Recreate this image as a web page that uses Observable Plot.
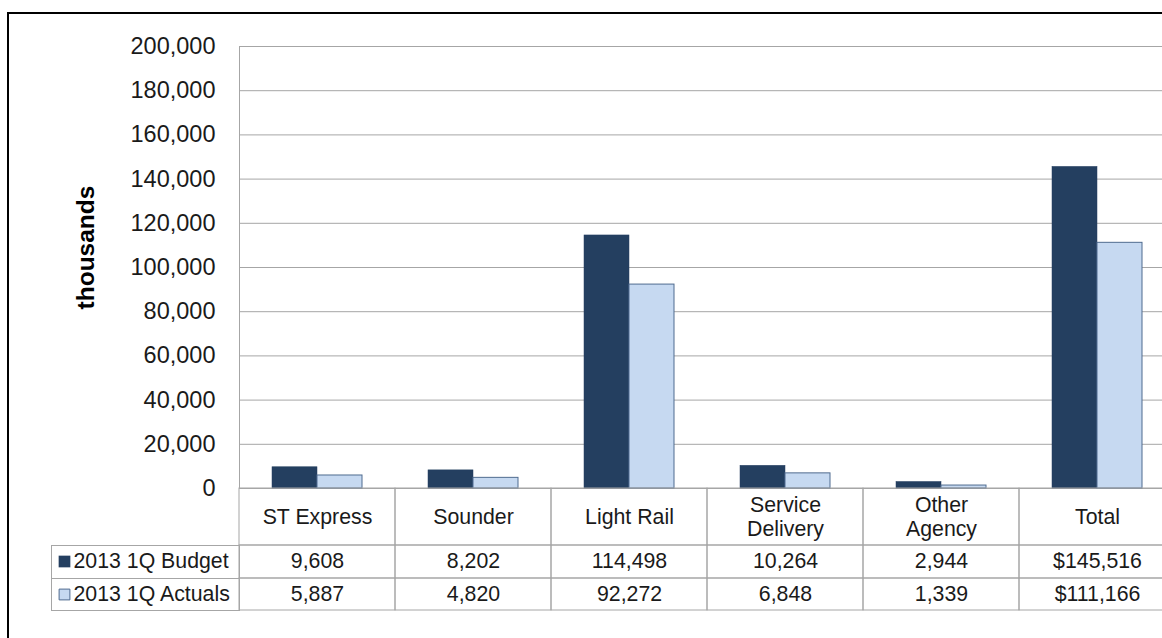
<!DOCTYPE html>
<html><head><meta charset="utf-8">
<script src="https://cdn.jsdelivr.net/npm/d3@7"></script>
<script src="https://cdn.jsdelivr.net/npm/@observablehq/plot@0.6"></script>
<style>
html,body{margin:0;padding:0;background:#fff;overflow:hidden;}
#wrap{position:relative;width:1162px;height:638px;overflow:hidden;background:#fff;}
#chart{position:absolute;left:0;top:0;width:1200px;}
#border{position:absolute;left:7px;top:12px;width:1300px;height:800px;border:2px solid #000;box-sizing:border-box;pointer-events:none;}
</style></head><body>
<div id="wrap"><div id="chart"></div><div id="border"></div></div>
<script>
// ---- data ----
const categories = ["ST Express", "Sounder", "Light Rail", "Service Delivery", "Other Agency", "Total"];
const categoryLabels = ["ST Express", "Sounder", "Light Rail", "Service\nDelivery", "Other\nAgency", "Total"];
const seriesNames = ["2013 1Q Budget", "2013 1Q Actuals"];
const budget = [9608, 8202, 114498, 10264, 2944, 145516];
const actuals = [5887, 4820, 92272, 6848, 1339, 111166];
const yTicks = [0, 20000, 40000, 60000, 80000, 100000, 120000, 140000, 160000, 180000, 200000];
const yLabel = "thousands";

// ---- style ----
const budgetColor = "#243f60";
const actualsColor = "#c6d9f1";
const actualsStroke = "#4f6b8f";
const lineColor = "#a6a6a6";
const textColor = "#1a1a1a";
const font = "'Liberation Sans', Arial, sans-serif";

const fmt = d3.format(",");
const rows = categories.map((c, i) => ({
  category: c,
  label: categoryLabels[i],
  budget: budget[i],
  actuals: actuals[i],
  budgetText: (c === "Total" ? "$" : "") + fmt(budget[i]),
  actualsText: (c === "Total" ? "$" : "") + fmt(actuals[i])
}));

const tableFont = 21.3;
const cellLine = {fill: "none", stroke: lineColor, strokeWidth: 1};

const chart = Plot.plot({
  width: 1175,
  height: 638,
  marginLeft: 239,
  marginRight: 0,
  marginTop: 46,
  marginBottom: 150,
  style: {fontFamily: font, fontSize: "23.5px", color: textColor, background: "transparent", overflow: "visible", maxWidth: "none"},
  x: {domain: categories, padding: 0, axis: null},
  y: {domain: [0, 200000], ticks: yTicks.length - 1, tickSize: 0, tickPadding: 24, tickFormat: fmt, label: null},
  marks: [
    Plot.ruleY(yTicks.slice(1), {stroke: lineColor, strokeWidth: 1}),
    Plot.frame({stroke: lineColor, strokeWidth: 1}),
    Plot.barY(rows, {x: "category", y: "budget", fill: budgetColor, stroke: budgetColor, strokeWidth: 0.5, insetLeft: 33, insetRight: 78}),
    Plot.barY(rows, {x: "category", y: "actuals", fill: actualsColor, stroke: actualsStroke, strokeWidth: 1, insetLeft: 78, insetRight: 33}),
    // data table cells
    Plot.barY(rows, {x: "category", y1: 0, y2: 0, insetTop: 0, insetBottom: -57, ...cellLine}),
    Plot.barY(rows, {x: "category", y1: 0, y2: 0, insetTop: 57, insetBottom: -90, ...cellLine}),
    Plot.barY(rows, {x: "category", y1: 0, y2: 0, insetTop: 90, insetBottom: -122, ...cellLine}),
    // legend column
    Plot.frame({stroke: lineColor, strokeWidth: 1, insetLeft: -188, insetRight: 936, insetTop: 499, insetBottom: -122}),
    Plot.ruleY([0], {dy: 90, stroke: lineColor, strokeWidth: 1, insetLeft: -188, insetRight: 936}),
    // table text
    Plot.text(rows, {x: "category", y: 0, text: "label", dy: 28, fontSize: tableFont, lineHeight: 1.12, fill: textColor}),
    Plot.text(rows, {x: "category", y: 0, text: "budgetText", dy: 73, fontSize: tableFont, fill: textColor}),
    Plot.text(rows, {x: "category", y: 0, text: "actualsText", dy: 106, fontSize: tableFont, fill: textColor}),
    Plot.dot([seriesNames[0]], {y: () => 0, frameAnchor: "left", dx: -175, dy: 73, symbol: "square", r: 6.6, fill: budgetColor}),
    Plot.dot([seriesNames[1]], {y: () => 0, frameAnchor: "left", dx: -175, dy: 106, symbol: "square", r: 6.1, fill: actualsColor, stroke: actualsStroke, strokeWidth: 1}),
    Plot.text([seriesNames[0]], {y: () => 0, text: d => d, frameAnchor: "left", textAnchor: "start", dx: -166, dy: 73, fontSize: tableFont, fill: textColor}),
    Plot.text([seriesNames[1]], {y: () => 0, text: d => d, frameAnchor: "left", textAnchor: "start", dx: -166, dy: 106, fontSize: tableFont, fill: textColor}),
    // y label
    Plot.text([yLabel], {x: null, text: d => d, frameAnchor: "left", textAnchor: "middle", dx: -153, dy: -20, rotate: -90, fontWeight: "bold", fontSize: 24.5, fill: "#000"})
  ]
});
document.getElementById("chart").appendChild(chart);
</script>
</body></html>
